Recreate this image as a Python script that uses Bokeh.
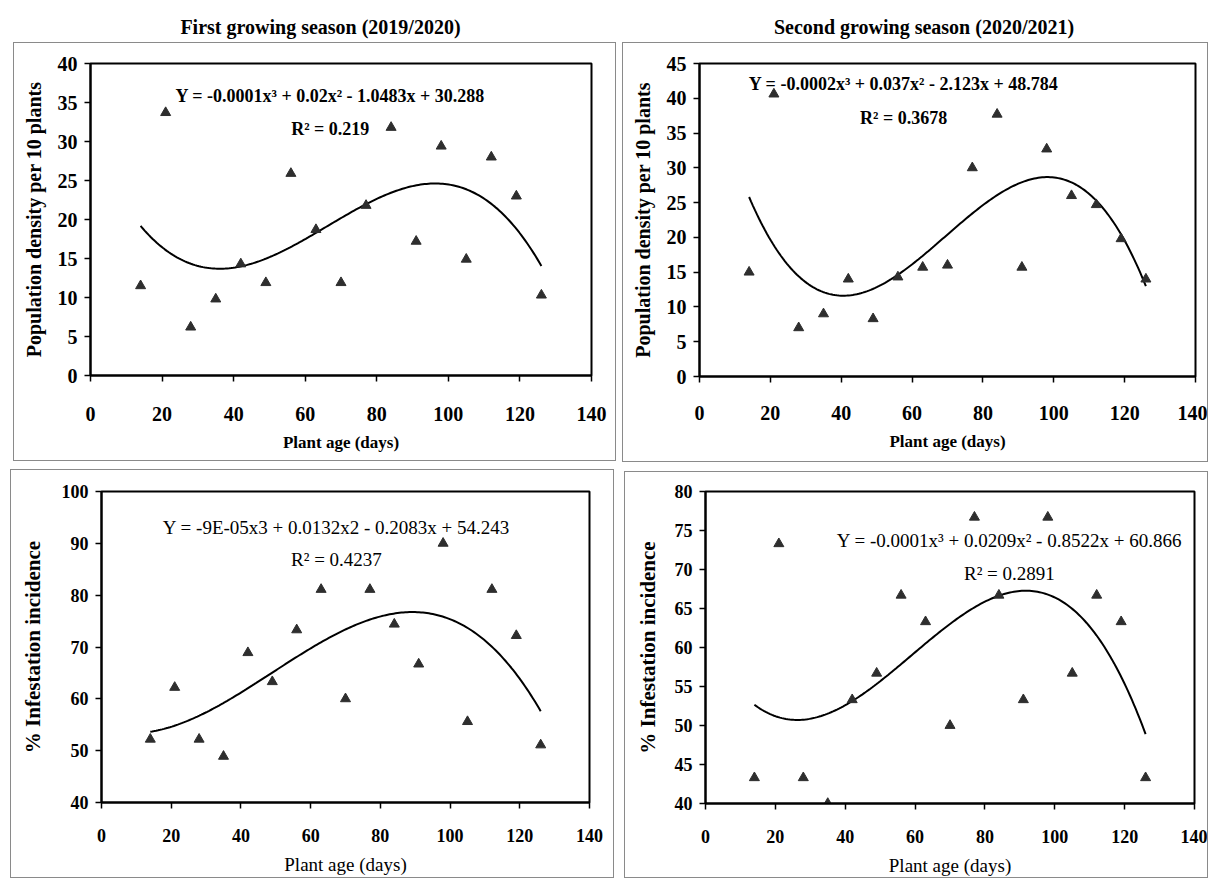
import numpy as np
from bokeh.plotting import figure
from bokeh.models import Div, Label, FixedTicker, Range1d, Spacer
from bokeh.layouts import column, row
from bokeh.embed import file_html
from bokeh.resources import INLINE

# ---------------- data ----------------
days = [14, 21, 28, 35, 42, 49, 56, 63, 70, 77, 84, 91, 98, 105, 112, 119, 126]
density_s1 = [11.5, 33.7, 6.2, 9.8, 14.3, 11.9, 25.9, 18.7, 11.9, 21.8, 31.8, 17.2, 29.4, 14.9, 28.0, 23.0, 10.3]
density_s2 = [15.0, 40.6, 7.0, 9.0, 14.0, 8.3, 14.3, 15.7, 16.0, 30.0, 37.7, 15.7, 32.7, 26.0, 24.7, 19.8, 14.0]
infest_s1 = [52.2, 62.2, 52.2, 48.9, 68.9, 63.3, 73.3, 81.1, 60.0, 81.1, 74.4, 66.7, 90.0, 55.6, 81.1, 72.2, 51.1]
infest_s2 = [43.3, 73.3, 43.3, 40.0, 53.3, 56.7, 66.7, 63.3, 50.0, 76.7, 66.7, 53.3, 76.7, 56.7, 66.7, 63.3, 43.3]

x_ticks = [0, 20, 40, 60, 80, 100, 120, 140]
titles = ["First growing season (2019/2020)", "Second growing season (2020/2021)"]
eq_tl = ["Y = -0.0001x\u00b3 + 0.02x\u00b2 - 1.0483x + 30.288", "R\u00b2 = 0.219"]
eq_tr = ["Y = -0.0002x\u00b3 + 0.037x\u00b2 - 2.123x + 48.784", "R\u00b2 = 0.3678"]
eq_bl = ["Y = -9E-05x3 + 0.0132x2 - 0.2083x + 54.243", "R\u00b2 = 0.4237"]
eq_br = ["Y = -0.0001x\u00b3 + 0.0209x\u00b2 - 0.8522x + 60.866", "R\u00b2 = 0.2891"]

FONT = "Liberation Serif"
MARK = "#2e2e2e"


def panel(w, h, ymin, ymax, ystep, ylabel, borders, tick_size, xlab_size,
          xlab_style, tick_standoff_x, ylab_size, ylab_standoff, values, eq, eq_pos,
          eq_size, eq_style):
    ml, mt, mr, mb = borders
    p = figure(width=w, height=h, x_range=Range1d(0, 140), y_range=Range1d(ymin, ymax),
               output_backend="svg", toolbar_location=None,
               min_border_left=ml, min_border_top=mt, min_border_right=mr, min_border_bottom=mb,
               margin=0)
    p.styles = {"border": "1px solid #8a8a8a", "box-sizing": "border-box"}
    p.grid.visible = False
    p.outline_line_color = "black"
    p.outline_line_width = 2
    p.background_fill_color = "white"
    p.border_fill_color = "white"

    p.xaxis.ticker = FixedTicker(ticks=x_ticks)
    p.yaxis.ticker = FixedTicker(ticks=list(range(ymin, ymax + 1, ystep)))
    for ax in (p.xaxis[0], p.yaxis[0]):
        ax.axis_line_color = "black"
        ax.axis_line_width = 2
        ax.major_tick_line_color = "black"
        ax.major_tick_line_width = 1.5
        ax.major_tick_in = 0
        ax.major_tick_out = 6
        ax.minor_tick_line_color = None
        ax.major_label_text_font = FONT
        ax.major_label_text_font_style = "bold"
        ax.major_label_text_font_size = tick_size
        ax.major_label_text_color = "black"
        ax.axis_label_text_font = FONT
        ax.axis_label_text_color = "black"
    p.xaxis.major_label_standoff = tick_standoff_x
    p.yaxis.major_label_standoff = 7
    p.xaxis.axis_label = "Plant age (days)"
    p.xaxis.axis_label_text_font_size = xlab_size
    p.xaxis.axis_label_text_font_style = xlab_style
    p.xaxis.axis_label_standoff = 9
    p.yaxis.axis_label = ylabel
    p.yaxis.axis_label_text_font_size = ylab_size
    p.yaxis.axis_label_text_font_style = "bold"
    p.yaxis.axis_label_standoff = ylab_standoff

    coeffs = np.polyfit(days, values, 3)
    xs = np.linspace(days[0], days[-1], 200)
    p.line(xs, np.polyval(coeffs, xs), line_color="black", line_width=2)
    p.scatter(days, values, marker="triangle", size=10, fill_color=MARK, line_color=MARK)

    (ex, ey), (rx, ry) = eq_pos
    for (tx, ty), txt in (((ex, ey), eq[0]), ((rx, ry), eq[1])):
        p.add_layout(Label(x=tx, y=ty, text=txt, text_align="center", text_baseline="middle",
                           text_font=FONT, text_font_style=eq_style, text_font_size=eq_size,
                           text_color="black"))
    return p


p1 = panel(603, 419, 0, 40, 5, "Population density per 10 plants", (76, 20, 26, 85),
           "20px", "17px", "bold", 25, "20px", 10, density_s1, eq_tl,
           ((67, 35.8), (67, 31.6)), "18px", "bold")
p2 = panel(586, 420, 0, 45, 5, "Population density per 10 plants", (76, 20, 14, 87),
           "20px", "17px", "bold", 23, "20px", 10, density_s2, eq_tr,
           ((57.6, 42.1), (57.6, 37.1)), "18px", "bold")
p3 = panel(604, 409, 40, 100, 10, "% Infestation incidence", (90, 21, 26, 77),
           "18px", "19px", "normal", 20, "21px", 14, infest_s1, eq_bl,
           ((67.4, 93.0), (67.4, 86.9)), "19px", "normal")
p4 = panel(584, 407, 40, 80, 5, "% Infestation incidence", (80, 19, 15, 76),
           "18px", "19px", "normal", 20, "21px", 12, infest_s2, eq_br,
           ((87.0, 73.7), (87.0, 69.5)), "19px", "normal")

tstyle = {"font-family": FONT, "font-weight": "bold", "font-size": "20px",
          "text-align": "center", "color": "black"}
d1 = Div(text=titles[0], width=603, height=28, margin=0, styles=dict(tstyle))
d2 = Div(text=titles[1], width=568, height=28, margin=0, styles=dict(tstyle))

layout = column(
    Spacer(height=13, width=10),
    row(Spacer(width=19, height=29), d1, Spacer(width=18, height=29), d2),
    row(Spacer(width=13, height=420), p1, Spacer(width=6, height=420), p2),
    row(Spacer(width=10, height=416),
        column(Spacer(height=7, width=10), p3),
        Spacer(width=10, height=416),
        column(Spacer(height=9, width=10), p4)),
)

open("out.html", "w").write(file_html(layout, INLINE))
